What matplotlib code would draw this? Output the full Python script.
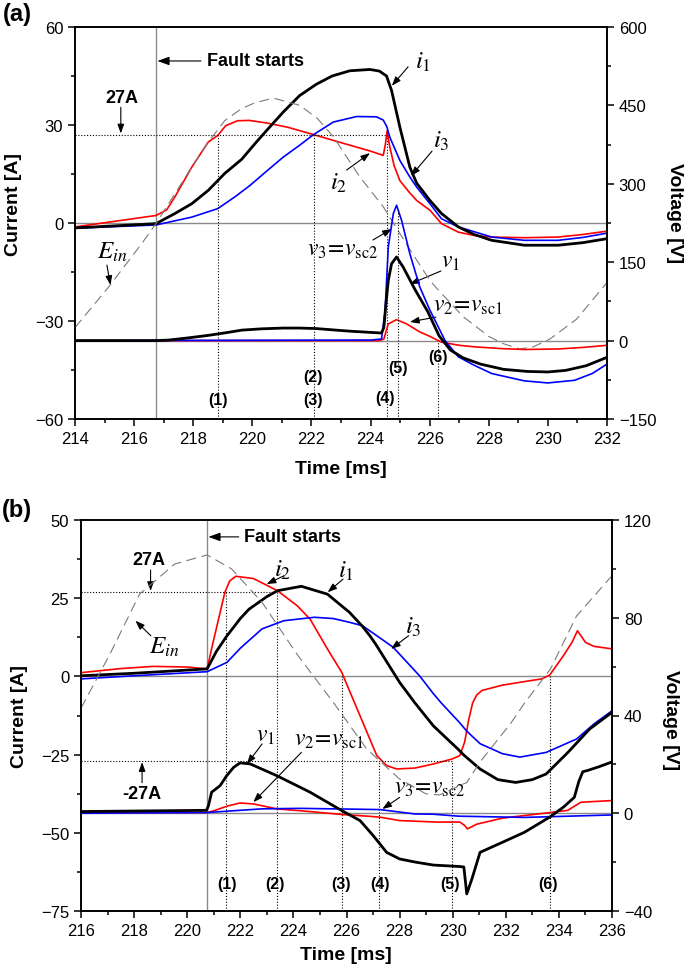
import matplotlib
matplotlib.use('Agg')
import matplotlib.pyplot as plt
from matplotlib.ticker import MultipleLocator

plt.rcParams['font.family'] = ['Liberation Sans', 'DejaVu Sans']
plt.rcParams['mathtext.fontset'] = 'stix'

# ---------------- Panel (a) data ----------------
t_i1_a = [214, 215.5, 216.74, 217.38, 217.95, 218.51, 219.07, 219.64, 220.09, 220.6, 221.05, 221.6,
          222.17, 222.7, 223.3, 223.98, 224.3, 224.54, 224.71, 224.99, 225.33, 225.56, 226.0, 226.4,
          226.97, 227.5, 228.1, 229.2, 230.35, 231.2, 232]
i1_a = [-1.5, -0.8, -0.2, 2.9, 5.9, 10, 15.2, 19.5, 24.3, 29.5, 34, 39, 42.5, 45, 46.6, 47, 46.5, 45,
        40.6, 29.4, 17.1, 12.2, 7, 2.9, -1.2, -3.5, -5.3, -6.8, -6.8, -6, -4.8]

t_i2_a = [214, 216.74, 217.1, 217.38, 217.95, 218.51, 218.83, 219.1, 219.5, 219.9, 220.5, 221.2, 222.06,
          223.0, 224.0, 224.43, 224.5, 224.56, 224.65, 224.8, 224.99, 225.3, 225.56, 226.01, 226.4,
          226.97, 227.5, 228.1, 229.2, 230.35, 231.2, 232]
i2_a = [-1.2, 2.3, 4, 8, 17.1, 24.8, 26.8, 29.8, 31.3, 31.4, 30.6, 29.3, 27.1, 24.6, 22.0, 20.7, 24,
        28.2, 23.3, 17.5, 13, 9.5, 6.9, 3.9, -0.2, -2.8, -3.8, -4.3, -4.5, -4.3, -3.5, -2.5]

t_i3_a = [214, 216.74, 217.95, 218.83, 219.41, 219.92, 220.5, 221.05, 221.6, 222.06, 222.74, 223.53,
          224.2, 224.43, 224.55, 224.65, 224.99, 225.3, 225.56, 226.01, 226.4, 226.97, 228.1, 229.2,
          230.35, 231.2, 232]
i3_a = [-1.6, -0.6, 1.8, 4.4, 8, 11.5, 16, 20.2, 23.8, 27, 30.9, 32.6, 32.5, 31.5, 29.5, 26.3, 19.2,
        14.5, 11, 5.9, 1.3, -1.2, -4.3, -5.3, -5.3, -4.4, -3.1]

t_v1_a = [214, 216.74, 217.16, 217.8, 218.51, 219.1, 219.64, 220.3, 221.05, 221.6, 222.17, 223.3,
          224.37, 224.45, 224.52, 224.6, 224.71, 224.88, 225.1, 225.5, 225.94, 226.32, 226.7, 227.13,
          227.72, 228.5, 229.3, 230.0, 230.6, 231.3, 232]
v1_a = [0, 0, 1, 5, 10, 15, 20, 22.5, 24, 24, 23, 18, 14.5, 25, 70, 115, 147, 160, 141, 98, 55, 9,
        -18, -33, -45, -55, -59, -60, -57, -48, -32]

t_v2_a = [214, 224.3, 224.45, 224.6, 224.88, 225.22, 225.67, 226.01, 226.4, 227.0, 227.53, 228.5,
          229.2, 230.35, 231.2, 232]
v2_a = [0, 0, 3, 32, 40, 32, 16.5, 8, -3, -9, -12, -15.5, -17, -16, -13, -9]

t_v3_a = [214, 224.0, 224.37, 224.49, 224.6, 224.77, 224.88, 225.05, 225.33, 225.67, 225.84, 226.01,
          226.18, 226.52, 226.97, 227.5, 228.1, 229.2, 230.0, 230.9, 231.5, 232]
v3_a = [0, 1, 3, 55, 179, 243, 259, 230, 166, 102, 80, 58, 39, 0, -31, -47, -63, -77, -81, -76,
        -63, -45]

t_ein_a = [214, 215.13, 216.25, 216.74, 217.38, 217.95, 218.51, 219.07, 219.64, 220.09, 220.71,
           221.61, 222.2, 222.74, 223.64, 224.43, 224.99, 225.56, 226.01, 226.24, 227.13, 228.0,
           228.5, 229.05, 229.5, 230.07, 230.97, 232]
ein_a = [25, 102, 185, 224, 281, 332, 380, 421, 444, 455, 464, 450, 425, 390, 313, 256, 205, 154,
         115, 100, 46, 8, -6, -16, -12, 3, 41, 111]

events_a = [218.83, 222.08, 224.57, 224.92, 226.29]
level_a = 27

# ---------------- Panel (b) data ----------------
t_i1_b = [216, 218, 220.75, 221.1, 221.5, 222.0, 222.33, 223.0, 223.4, 224.3, 225.28, 226.11, 226.6,
          226.88, 227.1, 228.0, 228.58, 229.27, 230.23, 230.4, 231.03, 231.7, 232.37, 233.0, 233.52,
          234.34, 235.16, 236]
i1_b = [0.2, 1.0, 2.4, 8, 13, 18.5, 21.5, 25.5, 27.4, 28.8, 26.3, 20.5, 16, 13, 10.3, -1.9, -8.5,
        -15.8, -23.5, -25, -29.6, -33, -33.9, -33, -31.2, -24.3, -16.8, -11.5]

t_i2_b = [216, 217.5, 218.7, 220.0, 220.75, 220.95, 221.18, 221.42, 221.6, 221.83, 222.49, 223.4,
          224.14, 224.63, 225.28, 225.82, 226.51, 227.14, 227.51, 227.89, 228.58, 229.27, 229.98,
          230.27, 230.45, 230.6, 230.75, 230.9, 231.1, 231.87, 232.6, 233.35, 233.65, 234.17, 234.5,
          234.7, 235.0, 235.32, 236]
i2_b = [1.2, 2.5, 3.2, 3.0, 2.4, 10, 18.3, 26.9, 30.5, 32, 31.3, 27.4, 22.6, 18.3, 8.8, 1.3, -12.6,
        -25.3, -28.5, -29.6, -29.3, -28, -26.4, -25.3, -21, -14, -8.5, -6, -4.5, -2.8, -1.8, -0.8,
        0.4, 6.6, 11, 14.6, 10.9, 9.6, 8.8]

t_i3_b = [216, 218, 220.75, 221.5, 222.0, 222.82, 223.64, 224.79, 225.5, 226.11, 226.6, 227.26,
          227.76, 228.75, 229.27, 229.57, 230.23, 230.53, 231.03, 231.87, 232.53, 233.52, 234.67,
          235.32, 236]
i3_b = [-0.8, 0.2, 1.5, 4.5, 9, 15.2, 17.8, 18.9, 18.5, 17.3, 16.2, 12.3, 9.3, 0.2, -5.5, -8.5,
        -14.5, -17.5, -21.5, -24.7, -25.8, -24.3, -20, -15.2, -11]

t_v1_b = [216, 220.73, 220.8, 220.92, 221.24, 221.49, 221.75, 221.99, 222.37, 223.37, 224.63, 225.82,
          226.51, 227.01, 227.51, 228.0, 228.6, 229.27, 230.27, 230.42, 230.53, 230.72, 231.03, 231.87,
          232.7, 233.65, 234.17, 234.58, 234.75, 234.9, 235.08, 235.5, 236]
v1_b = [0.7, 1.2, 3.1, 8.6, 11.3, 15.4, 18.8, 20.6, 20.2, 15.4, 8.6, 1.1, -3, -9.2, -16, -18.7, -20,
        -21.2, -21.8, -22, -33, -27, -16, -11.9, -7.8, -1.6, 2.5, 6.5, 13, 17, 17.5, 19, 21]

t_v2_b = [216, 220.75, 221.0, 221.5, 221.99, 222.5, 223.37, 224.3, 225.82, 226.93, 227.26, 228.0,
          229.4, 230.27, 230.45, 230.55, 230.72, 230.9, 231.87, 233.52, 234.34, 234.6, 234.83, 236]
v2_b = [0.3, 0.3, 1, 2.9, 4.2, 3.8, 1.8, 1.0, -0.5, -1.3, -1.6, -3, -3.6, -3.6, -5, -6.4, -5.5, -4.5,
        -2, 0.1, 1.2, 3, 4.5, 5.2]

t_v3_b = [216, 220.75, 222.82, 224.25, 226.11, 227.26, 228.58, 229.27, 230.23, 232.7, 236]
v3_b = [0, 0.3, 1.8, 2, 1.7, 1.5, -0.3, -0.4, -1.2, -1.7, -0.7]

t_ein_b = [216, 217.06, 218.21, 219.53, 220.75, 221.67, 222.82, 224.14, 225.5, 226.76, 228.0, 229.0,
           229.5, 230.53, 231.03, 232.2, 232.7, 233.68, 234.67, 236]
ein_b = [43, 64.5, 89.7, 102, 105.7, 100, 86.3, 65, 45.4, 26.3, 14, 7.9, 7.5, 12.6, 21, 37, 45, 59,
         80.8, 97.2]

events_b = [221.46, 223.4, 225.83, 227.23, 229.97, 233.65]
events_b_top = [27, 27, 0, -27, -27, 0]
level_b = 27

fault_a = 216.74
fault_b = 220.75

# ---------------- Figure ----------------
W, H = 685, 970
fig = plt.figure(figsize=(W / 100, H / 100), dpi=100)


def box(l, t, r, b):
    return [l / W, 1 - b / H, (r - l) / W, (b - t) / H]


GRAY = '#8a8a8a'
RED = '#ff0000'
BLUE = '#0000ff'
TICK_FS = 12
BOLD_FS = 14
EV_FS = 11.5


def style_axes(ax, ax2):
    for a in (ax, ax2):
        for s in a.spines.values():
            s.set_linewidth(1.2)
        a.tick_params(which='both', direction='out', labelsize=TICK_FS, width=1.1)
        a.tick_params(which='major', length=5)
        a.tick_params(which='minor', length=3)


def arrow(ax, tail, head):
    ax.annotate('', xy=head, xytext=tail,
                arrowprops=dict(arrowstyle='-|>,head_length=0.55,head_width=0.2', lw=0.8,
                                color='k', shrinkA=0, shrinkB=0))


def mlabel(ax, x, y, s, fs=18):
    ax.text(x, y, s, fontsize=fs, ha='center', va='center')


def blabel(ax, x, y, s, fs=11):
    ax.text(x, y, s, fontsize=fs, fontweight='bold', ha='center', va='center')


# ===== Panel (a) =====
ax = fig.add_axes(box(75, 28, 607, 420))
ax2 = ax.twinx()
ax.set_xlim(214, 232)
ax.set_ylim(-60, 60)
ax2.set_ylim(-150, 600)
ax.xaxis.set_major_locator(MultipleLocator(2))
ax.xaxis.set_minor_locator(MultipleLocator(1))
ax.yaxis.set_major_locator(MultipleLocator(30))
ax.yaxis.set_minor_locator(MultipleLocator(15))
ax2.yaxis.set_major_locator(MultipleLocator(150))
ax2.yaxis.set_minor_locator(MultipleLocator(75))
style_axes(ax, ax2)

ax.axhline(0, color=GRAY, lw=1.0)
ax2.axhline(0, color=GRAY, lw=1.0)
ax.axvline(fault_a, color=GRAY, lw=1.0)

ax2.plot(t_ein_a, ein_a, color='#7a7a7a', lw=0.8, ls=(0, (9, 5)))
ax.plot(t_i2_a, i2_a, color=RED, lw=1.2)
ax.plot(t_i3_a, i3_a, color=BLUE, lw=1.2)
ax.plot(t_i1_a, i1_a, color='k', lw=2.0)
ax2.plot(t_v2_a, v2_a, color=RED, lw=1.2)
ax2.plot(t_v3_a, v3_a, color=BLUE, lw=1.2)
ax2.plot(t_v1_a, v1_a, color='k', lw=2.0)

dot = dict(color='k', lw=0.8, ls=(0, (1, 1.6)))
ax.plot([214, events_a[2]], [level_a, level_a], **dot)
for t in events_a[:3]:
    ax.plot([t, t], [-60, level_a], **dot)
ax2.plot([events_a[3], events_a[3]], [-150, 250], **dot)
ax2.plot([events_a[4], events_a[4]], [-150, 0], **dot)

blabel(ax, 218.83, -53.9, '(1)', EV_FS)
blabel(ax, 222.05, -47.1, '(2)', EV_FS)
blabel(ax, 222.05, -53.9, '(3)', EV_FS)
blabel(ax, 224.49, -53.3, '(4)', EV_FS)
blabel(ax, 224.93, -44.1, '(5)', EV_FS)
blabel(ax, 226.28, -41.0, '(6)', EV_FS)

ax.annotate('Fault starts', xy=(fault_a + 0.05, 49.6), xytext=(218.45, 49.6), fontsize=13,
            fontweight='bold', ha='left', va='center',
            arrowprops=dict(arrowstyle='-|>,head_length=0.55,head_width=0.2', lw=0.8, color='k',
                            shrinkA=2, shrinkB=0))
blabel(ax, 215.57, 38.3, '27A', 13)
arrow(ax, (215.55, 35.4), (215.55, 27.4))

mlabel(ax, 225.77, 49.5, r'$i_{1}$')
arrow(ax, (225.27, 47.8), (224.72, 42.0))
mlabel(ax, 222.93, 12.5, r'$i_{2}$')
arrow(ax, (223.19, 16.2), (223.98, 21.4))
mlabel(ax, 226.4, 25.4, r'$i_{3}$')
arrow(ax, (226.08, 22.0), (225.37, 14.4))
mlabel(ax, 215.25, -8.6, r'$E_{in}$')
arrow(ax, (215.08, -12.9), (215.2, -19.0))
mlabel(ax, 223.07, -8.0, r'$v_{3}\!=\!v_{\mathrm{sc2}}$', 17)
arrow(ax, (224.08, -5.2), (224.72, -1.8))
mlabel(ax, 226.7, -11.6, r'$v_{1}$', 17)
arrow(ax, (226.38, -14.7), (225.33, -18.7))
mlabel(ax, 227.3, -25.1, r'$v_{2}\!=\!v_{\mathrm{sc1}}$', 17)
arrow(ax, (226.21, -28.8), (225.33, -30.3))

# ===== Panel (b) =====
bx = fig.add_axes(box(81, 521, 612, 912))
bx2 = bx.twinx()
bx.set_xlim(216, 236)
bx.set_ylim(-75, 50)
bx2.set_ylim(-40, 120)
bx.xaxis.set_major_locator(MultipleLocator(2))
bx.xaxis.set_minor_locator(MultipleLocator(1))
bx.yaxis.set_major_locator(MultipleLocator(25))
bx.yaxis.set_minor_locator(MultipleLocator(12.5))
bx2.yaxis.set_major_locator(MultipleLocator(40))
bx2.yaxis.set_minor_locator(MultipleLocator(20))
style_axes(bx, bx2)

bx.axhline(0, color=GRAY, lw=1.0)
bx2.axhline(0, color=GRAY, lw=1.0)
bx.axvline(fault_b, color=GRAY, lw=1.0)

bx2.plot(t_ein_b, ein_b, color='#7a7a7a', lw=0.8, ls=(0, (9, 5)))
bx.plot(t_i2_b, i2_b, color=RED, lw=1.2)
bx.plot(t_i3_b, i3_b, color=BLUE, lw=1.2)
bx.plot(t_i1_b, i1_b, color='k', lw=2.0)
bx2.plot(t_v2_b, v2_b, color=RED, lw=1.2)
bx2.plot(t_v3_b, v3_b, color=BLUE, lw=1.2)
bx2.plot(t_v1_b, v1_b, color='k', lw=2.0)

bx.plot([216, events_b[1]], [level_b, level_b], **dot)
bx.plot([216, events_b[4]], [-level_b, -level_b], **dot)
for t, top in zip(events_b, events_b_top):
    bx.plot([t, t], [-75, top], **dot)

for t, s in zip([221.5, 223.3, 225.79, 227.26, 229.9, 233.59], ['(1)', '(2)', '(3)', '(4)', '(5)', '(6)']):
    blabel(bx, t, -66.3, s, EV_FS)

bx.annotate('Fault starts', xy=(fault_b + 0.05, 44.6), xytext=(222.15, 44.6), fontsize=13,
            fontweight='bold', ha='left', va='center',
            arrowprops=dict(arrowstyle='-|>,head_length=0.55,head_width=0.2', lw=0.8, color='k',
                            shrinkA=2, shrinkB=0))
blabel(bx, 218.54, 37.5, '27A', 13)
arrow(bx, (218.62, 34.0), (218.62, 27.3))
blabel(bx, 218.3, -37.5, '-27A', 13)
arrow(bx, (218.3, -34.0), (218.3, -27.4))

mlabel(bx, 223.61, 34.3, r'$i_{2}$')
arrow(bx, (223.65, 32.2), (222.99, 29.5))
mlabel(bx, 225.98, 34.0, r'$i_{1}$')
arrow(bx, (225.87, 31.1), (225.29, 26.9))
mlabel(bx, 228.52, 16.1, r'$i_{3}$')
arrow(bx, (228.34, 13.0), (227.68, 8.8))
mlabel(bx, 219.13, 9.7, r'$E_{in}$')
arrow(bx, (218.63, 13.0), (218.05, 17.8))
mlabel(bx, 222.95, -18.7, r'$v_{1}$', 17)
arrow(bx, (222.82, -21.6), (222.25, -28.0))
mlabel(bx, 225.35, -20.0, r'$v_{2}\!=\!v_{\mathrm{sc1}}$', 17)
arrow(bx, (224.3, -24.3), (222.49, -40.2))
mlabel(bx, 229.15, -35.4, r'$v_{3}\!=\!v_{\mathrm{sc2}}$', 17)
arrow(bx, (228.0, -38.7), (227.35, -42.4))

# ===== Labels =====
def ftext(px, py, s, **kw):
    fig.text(px / W, 1 - py / H, s, **kw)


ftext(17, 14, '(a)', fontsize=17, fontweight='bold', ha='center', va='center')
ftext(17, 510, '(b)', fontsize=17, fontweight='bold', ha='center', va='center')
ftext(14, 205, 'Current [A]', fontsize=BOLD_FS, fontweight='bold', rotation=90, ha='center', va='center')
ftext(20, 716, 'Current [A]', fontsize=BOLD_FS, fontweight='bold', rotation=90, ha='center', va='center')
ftext(675, 213, 'Voltage [V]', fontsize=BOLD_FS, fontweight='bold', rotation=270, ha='center', va='center')
ftext(671, 720, 'Voltage [V]', fontsize=BOLD_FS, fontweight='bold', rotation=270, ha='center', va='center')
ftext(341, 470, 'Time [ms]', fontsize=BOLD_FS, fontweight='bold', ha='center', va='center')
ftext(346, 956, 'Time [ms]', fontsize=BOLD_FS, fontweight='bold', ha='center', va='center')

fig.savefig('out.png', dpi=100)
